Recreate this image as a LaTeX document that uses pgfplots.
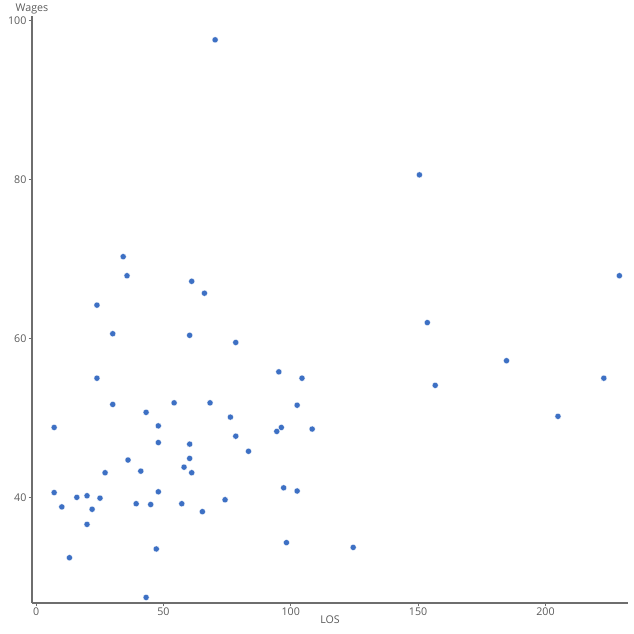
\documentclass[border=0pt]{standalone}
\usepackage{pgfplots}
\pgfplotsset{compat=1.18}
\usepackage{fontspec}
\setmainfont{Open Sans}
\definecolor{dotblue}{RGB}{61,112,196}
\definecolor{axisgray}{RGB}{110,110,110}
\definecolor{labelgray}{RGB}{90,90,90}
\begin{document}
\begin{tikzpicture}
  % fixed page: 634 px at 0.75pt per px
  \path[use as bounding box] (0,0) rectangle (475.5pt,475.5pt);
  \begin{axis}[
      at={(24pt,23.25pt)}, anchor=south west,
      scale only axis,
      width=447pt, height=440.25pt,
      xmin=-1.6, xmax=232.4,
      ymin=26.7, ymax=100.6,
      axis lines*=left,
      axis line style={axisgray, line width=0.9pt},
      xtick={0,50,100,150,200},
      ytick={40,60,80,100},
      tick align=outside,
      major tick length=2.5pt,
      tick style={axisgray, line width=0.5pt},
      tick label style={font=\fontsize{8}{9.6}\selectfont, text=labelgray},
      /pgf/number format/assume math mode=true,
      xticklabel style={inner sep=1pt},
      yticklabel style={inner sep=1.5pt},
      xlabel={LOS},
      ylabel={Wages},
      label style={font=\fontsize{8}{9.6}\selectfont, text=labelgray},
      xlabel style={inner sep=1pt, yshift=2pt},
      ylabel style={rotate=-90, at={(axis description cs:0,1)}, anchor=south, inner sep=1.5pt},
      clip=false,
    ]
    \addplot[only marks, mark=*, mark size=2.3pt, color=dotblue, mark options={draw=white, line width=0.2pt, fill=dotblue}] coordinates {
        (70.3,97.6)
        (150.5,80.6)
        (34.2,70.3) (35.7,67.9) (61.1,67.2) (66.1,65.7) (23.9,64.2)
        (30.1,60.6) (60.3,60.4) (78.4,59.5) (23.9,55.0) (30.1,51.7)
        (54.2,51.9) (68.3,51.9)
        (43.2,50.7) (48.0,49.0) (7.1,48.8) (76.3,50.1) (48.0,46.9)
        (60.3,46.7) (78.4,47.7) (83.4,45.8) (36.1,44.7) (60.3,44.9)
        (58.1,43.8) (61.1,43.1) (41.1,43.3) (27.1,43.1) (7.1,40.6)
        (48.0,40.7) (16.0,40.0) (20.0,40.2) (25.1,39.9) (10.1,38.8)
        (22.0,38.5) (39.3,39.2) (45.0,39.1) (57.2,39.2) (74.2,39.7)
        (65.3,38.2) (20.0,36.6) (13.1,32.4) (47.2,33.5) (43.2,27.4)
        (95.3,55.8) (104.4,55.0) (102.5,51.6) (96.3,48.8) (94.5,48.3)
        (108.4,48.6) (97.2,41.2) (102.5,40.8) (98.3,34.3) (124.5,33.7)
        (229.0,67.9) (153.6,62.0) (184.7,57.2) (156.7,54.1) (222.9,55.0)
        (204.9,50.2)
      };
  \end{axis}
\end{tikzpicture}
\end{document}
